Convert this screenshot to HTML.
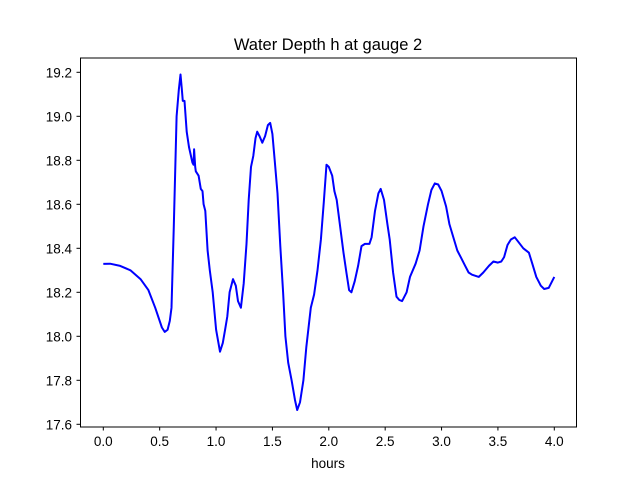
<!DOCTYPE html>
<html><head><meta charset="utf-8"><style>body{margin:0;background:#fff}svg{display:block;font-family:"Liberation Sans","DejaVu Sans",sans-serif}</style></head>
<body>
<svg id="chart" width="640" height="480">
<rect x="0" y="0" width="640" height="480" fill="#fff"/>
<text x="328" y="50" text-anchor="middle" font-size="16.5">Water Depth h at gauge 2</text>
<text x="328" y="468" text-anchor="middle" font-size="13.5">hours</text>
<g id="ticks"></g>
<clipPath id="clip"><rect x="80" y="58" width="496" height="369"/></clipPath>
<path id="line" fill="none" stroke="#0000ff" stroke-width="2" stroke-linejoin="round" clip-path="url(#clip)"/>
<rect x="80.5" y="58" width="496" height="369" fill="none" stroke="#000" stroke-width="1"/>
</svg>
<script>
const times=[0,0.06,0.15,0.24,0.33,0.40,0.46,0.52,0.545,0.57,0.59,0.605,0.625,0.65,0.67,0.685,0.695,0.705,0.72,0.74,0.76,0.79,0.80,0.805,0.815,0.82,0.845,0.865,0.88,0.89,0.905,0.925,0.945,0.97,1.0,1.035,1.06,1.08,1.10,1.12,1.15,1.175,1.195,1.22,1.245,1.27,1.29,1.31,1.33,1.35,1.365,1.385,1.41,1.435,1.46,1.48,1.50,1.52,1.545,1.57,1.595,1.615,1.64,1.67,1.70,1.72,1.745,1.775,1.80,1.84,1.87,1.90,1.93,1.956,1.98,2.0,2.03,2.05,2.07,2.10,2.13,2.156,2.18,2.20,2.23,2.26,2.29,2.32,2.36,2.38,2.41,2.44,2.46,2.49,2.52,2.54,2.57,2.60,2.625,2.65,2.69,2.72,2.77,2.805,2.84,2.88,2.91,2.94,2.97,3.00,3.04,3.07,3.11,3.14,3.17,3.21,3.24,3.27,3.30,3.33,3.37,3.42,3.46,3.50,3.53,3.555,3.585,3.615,3.65,3.68,3.725,3.775,3.805,3.84,3.88,3.91,3.95,4.0];
const depths=[18.329,18.33,18.32,18.30,18.26,18.21,18.13,18.04,18.02,18.03,18.07,18.13,18.50,19.0,19.12,19.19,19.13,19.07,19.07,18.93,18.86,18.79,18.78,18.85,18.77,18.75,18.73,18.67,18.66,18.60,18.57,18.39,18.30,18.20,18.03,17.93,17.97,18.03,18.09,18.20,18.26,18.23,18.16,18.13,18.24,18.42,18.62,18.77,18.82,18.90,18.93,18.91,18.88,18.91,18.96,18.97,18.92,18.80,18.65,18.41,18.20,18.00,17.88,17.80,17.71,17.665,17.70,17.80,17.95,18.13,18.19,18.30,18.44,18.61,18.78,18.77,18.73,18.66,18.62,18.50,18.38,18.29,18.21,18.20,18.25,18.32,18.41,18.42,18.42,18.45,18.57,18.65,18.67,18.62,18.51,18.44,18.29,18.18,18.165,18.16,18.20,18.27,18.33,18.39,18.50,18.60,18.665,18.695,18.69,18.66,18.59,18.51,18.44,18.39,18.36,18.32,18.29,18.28,18.275,18.27,18.29,18.32,18.34,18.335,18.34,18.36,18.415,18.44,18.45,18.43,18.40,18.38,18.33,18.27,18.23,18.215,18.22,18.27];
const xTicks=[0.0,0.5,1.0,1.5,2.0,2.5,3.0,3.5,4.0];
const yTicks=[17.6,17.8,18.0,18.2,18.4,18.6,18.8,19.0,19.2];
const xs=t=>103.3+(t-0)*112.75;
const ys=h=>72.3+(19.2-h)*220;
const NS='http://www.w3.org/2000/svg';
const g=document.getElementById('ticks');
xTicks.forEach(t=>{
 const l=document.createElementNS(NS,'line');
 l.setAttribute('x1',xs(t));l.setAttribute('x2',xs(t));l.setAttribute('y1',427);l.setAttribute('y2',430.5);l.setAttribute('stroke','#000');
 
 
 g.appendChild(l);
 const tx=document.createElementNS(NS,'text');
 tx.setAttribute('x',xs(t));tx.setAttribute('y',446);tx.setAttribute('text-anchor','middle');tx.setAttribute('font-size','13.5');
 tx.textContent=t.toFixed(1);
 
 
 g.appendChild(tx);
});
yTicks.forEach(v=>{
 const l=document.createElementNS(NS,'line');
 l.setAttribute('x1',76.5);l.setAttribute('x2',80);l.setAttribute('y1',ys(v));l.setAttribute('y2',ys(v));l.setAttribute('stroke','#000');
 
 
 g.appendChild(l);
 const tx=document.createElementNS(NS,'text');
 tx.setAttribute('x',72);tx.setAttribute('y',ys(v)+5);tx.setAttribute('text-anchor','end');tx.setAttribute('font-size','13.5');
 tx.textContent=v.toFixed(1);
 
 
 g.appendChild(tx);
});
document.getElementById('line').setAttribute('d',times.map((t,i)=>(i?'L':'M')+xs(t).toFixed(1)+','+ys(depths[i]).toFixed(1)).join(''));
</script>
</body></html>
